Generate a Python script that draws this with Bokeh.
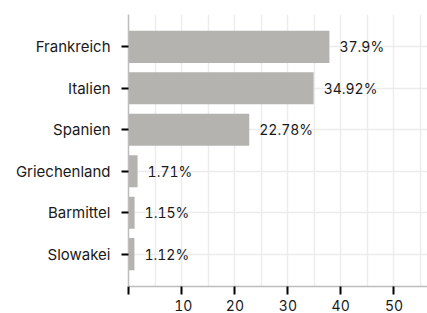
from bokeh.plotting import figure
from bokeh.models import Range1d, FixedTicker, ColumnDataSource
from bokeh.core.properties import value
from bokeh.embed import file_html
from bokeh.resources import INLINE

countries = ["Frankreich", "Italien", "Spanien", "Griechenland", "Barmittel", "Slowakei"]
shares = [37.9, 34.92, 22.78, 1.71, 1.15, 1.12]
share_labels = ["37.9%", "34.92%", "22.78%", "1.71%", "1.15%", "1.12%"]
x_ticks = [0, 10, 20, 30, 40, 50]
x_tick_labels = ["", "10", "20", "30", "40", "50"]

pos = list(range(len(countries)))
src = ColumnDataSource(dict(y=pos, v=shares, lab=share_labels))

FONT = "Inter"
FS = "14px"

p = figure(width=427, height=313, output_backend="svg", toolbar_location=None,
           x_range=Range1d(0, 56.4), y_range=Range1d(5.78, -0.78),
           min_border_left=128, min_border_top=14, min_border_right=0, min_border_bottom=20)
p.outline_line_color = None
p.background_fill_color = "white"

p.hbar(y="y", right="v", left=0, height=0.775, source=src,
       fill_color="#b4b3af", line_color=None)
p.text(x="v", y="y", text="lab", source=src, x_offset=10,
       text_baseline="middle", text_align="left",
       text_font=value(FONT), text_font_size=FS, text_color="#1a1a1a")

# x axis
p.xaxis.ticker = FixedTicker(ticks=x_ticks)
p.xaxis.major_label_overrides = {t: l for t, l in zip(x_ticks, x_tick_labels)}
p.xaxis.minor_tick_line_color = None
p.xaxis.major_tick_in = 0
p.xaxis.major_tick_out = 8
p.xaxis.major_tick_line_width = 2
p.xaxis.major_tick_line_color = "black"
p.xaxis.axis_line_color = "#bdbdbd"
p.xaxis.axis_line_width = 1.5
p.xaxis.major_label_standoff = 5
p.xaxis.major_label_text_font = FONT
p.xaxis.major_label_text_font_size = FS
p.xaxis.major_label_text_color = "#1a1a1a"

# y axis
p.yaxis.ticker = FixedTicker(ticks=pos)
p.yaxis.major_label_overrides = {i: c for i, c in enumerate(countries)}
p.yaxis.minor_tick_line_color = None
p.yaxis.major_tick_in = 0
p.yaxis.major_tick_out = 7
p.yaxis.major_tick_line_width = 2
p.yaxis.major_tick_line_color = "black"
p.yaxis.axis_line_color = "#bdbdbd"
p.yaxis.axis_line_width = 1.5
p.yaxis.major_label_standoff = 11
p.yaxis.major_label_text_font = FONT
p.yaxis.major_label_text_font_size = "15px"
p.yaxis.major_label_text_color = "#1a1a1a"

# grids
p.xgrid.ticker = FixedTicker(ticks=[0, 5, 10, 15, 20, 25, 30, 35, 40, 45, 50, 55])
p.xgrid.grid_line_color = "#ececec"
p.xgrid.grid_line_width = 1.5
p.ygrid.ticker = FixedTicker(ticks=pos)
p.ygrid.grid_line_color = "#ececec"
p.ygrid.grid_line_width = 1.5

html = file_html(p, INLINE)
tnum_js = """
<script>
(function(){
  function walk(root){
    root.querySelectorAll('text').forEach(function(t){
      t.style.fontVariantNumeric = 'tabular-nums';
    });
    root.querySelectorAll('*').forEach(function(el){
      if (el.shadowRoot) walk(el.shadowRoot);
    });
  }
  var n = 0;
  var id = setInterval(function(){ walk(document); if (++n > 40) clearInterval(id); }, 50);
})();
</script>
"""
html = html.replace("</body>", tnum_js + "</body>")
open("out.html", "w").write(html)
